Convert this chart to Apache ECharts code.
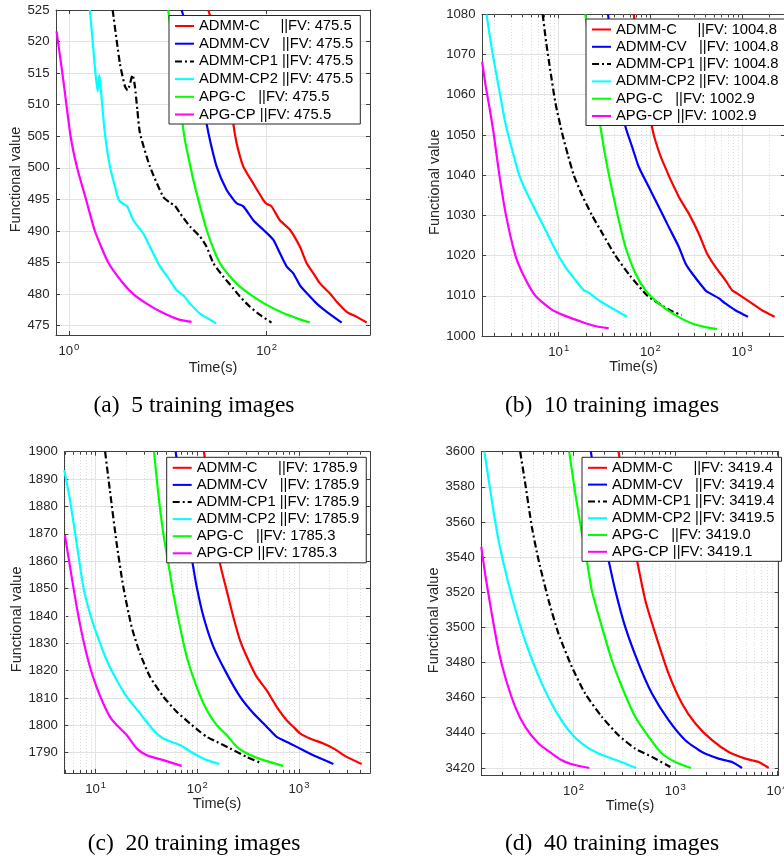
<!DOCTYPE html>
<html><head><meta charset="utf-8">
<script src="https://cdn.jsdelivr.net/npm/echarts@6/dist/echarts.min.js"></script>
<style>html,body{margin:0;padding:0;background:#fff}#c{width:784px;height:859px}</style>
</head><body><div id="c"></div>
<script>
// ---------- names ----------
const methods = ['ADMM-C', 'ADMM-CV', 'ADMM-CP1', 'ADMM-CP2', 'APG-C', 'APG-CP'];
const methodPad = ['     ', '   ', ' ', ' ', '   ', ' '];
const fvA = ['475.5', '475.5', '475.5', '475.5', '475.5', '475.5'];
const fvB = ['1004.8', '1004.8', '1004.8', '1004.8', '1002.9', '1002.9'];
const fvC = ['1785.9', '1785.9', '1785.9', '1785.9', '1785.3', '1785.3'];
const fvD = ['3419.4', '3419.4', '3419.4', '3419.5', '3419.0', '3419.1'];
const captions = ['(a)  5 training images', '(b)  10 training images', '(c)  20 training images', '(d)  40 training images'];

// ---------- (a) 5 training images: [time(s), functional value] ----------
const aAdmmC = [[25.7,525],[33.7,518.7],[42.6,511.3],[46,507],[49.7,503.9],[58.1,500.2],[73.3,497.5],[92.5,494.9],[100,494.3],[112,493.9],[136,491.7],[172,490.2],[217,487.5],[254,484.9],[297,483.3],[346,481.7],[437,480.1],[511,478.8],[645,477.2],[814,476.4],[1028,475.5]];
const aAdmmCV = [[13.8,525],[18.1,518.7],[22,511.8],[24.7,507],[26.7,504.4],[31.2,500.2],[39.4,496.5],[49.7,494.4],[58.1,493.9],[73.3,491.7],[92.5,490.2],[117,488.6],[136,486.5],[159,484.4],[186,483.3],[217,481.4],[264,479.9],[321,478.5],[405,477.2],[574,475.5]];
const aAdmmCP1 = [[2.77,525],[3.28,516.5],[3.69,512.9],[3.92,512.3],[4.41,514.7],[4.65,512.9],[4.92,509.2],[5.23,505.5],[6.6,500.2],[9.0,495.4],[10.5,494.5],[11.8,494.0],[13.3,492.8],[16.8,490.7],[21.2,489.1],[24.7,487.5],[28.9,484.9],[36.4,482.8],[46,480.9],[53.7,479.6],[67.8,478],[85.6,476.7],[112,475.5]];
const aAdmmCP2 = [[1.63,525],[1.83,516],[1.95,512.1],[2.03,514.7],[2.09,512.9],[2.31,505.5],[2.6,500.2],[3.04,496],[3.2,494.9],[3.55,494.3],[3.89,493.9],[4.48,491.7],[5.65,489.6],[6.6,487.5],[8.33,484.4],[10.5,482.2],[12.3,480.6],[14.4,479.8],[16.8,478.5],[21.2,476.9],[30.7,475.4]];
const aApgC = [[10.1,525],[11.4,518.7],[12.8,512.3],[14.1,507],[14.9,504.4],[16.1,501.8],[18.1,498.1],[21.2,493.9],[24.7,490.2],[28.9,487.2],[33.7,484.9],[42.6,482.8],[53.7,481.2],[73.3,479.6],[100,478.3],[147,477],[217,476],[274,475.5]];
const aApgCP = [[0.75,521.6],[0.877,513.9],[1.04,505],[1.21,500],[1.49,495],[1.83,490],[2.5,485],[3.41,482],[4.48,480],[6.1,478.5],[9,477],[12.8,476],[17.4,475.6]];

// ---------- (b) 10 training images ----------
const bAdmmC = [[65.8,1080],[77.8,1069.5],[92,1058.7],[104,1052.1],[112,1049],[134,1043.8],[204,1034.6],[262,1030.5],[337,1025.5],[415,1020.5],[512,1017.2],[658,1013.9],[778,1011.4],[881,1010.6],[1285,1008.1],[1652,1006.4],[2270,1004.8]];
const bAdmmCV = [[34.5,1080],[39.8,1069.5],[47.1,1058.7],[53.4,1052.1],[63.1,1047.1],[74.6,1042.1],[95.9,1037.1],[123,1032.2],[158,1027.2],[204,1022.2],[241,1018.1],[285,1015.6],[398,1011.4],[433,1010.8],[556,1009.4],[658,1008.1],[845,1006.4],[1161,1004.8]];
const bAdmmCP1 = [[6.68,1080],[7.3,1073],[8.1,1066],[9.2,1058],[10.9,1050.4],[12.6,1045],[14.6,1040],[18,1035],[23.1,1030],[30,1025.5],[41.5,1020],[60,1015],[93,1010],[130,1007.8],[170,1006.2],[220,1005.2]];
const bAdmmCP2 = [[1.63,1080],[1.87,1071.1],[2.21,1062],[2.62,1052.9],[3.1,1046.3],[3.66,1040.4],[4.33,1036.3],[5.56,1031.3],[7.16,1026.4],[9.2,1021.4],[11.8,1017.2],[15.2,1013.9],[18.7,1011.4],[21.2,1010.8],[27.3,1008.9],[38.2,1006.9],[55.6,1004.8]];
const bApgC = [[19.5,1080],[22.1,1071.1],[25.1,1061.2],[28.5,1052.1],[32.3,1044.6],[38.2,1036.3],[45.2,1028.8],[53.4,1022.2],[68.6,1015.6],[88.2,1011.4],[123,1008.1],[187,1005.2],[285,1003.1],[400,1002.2],[533,1001.7]];
const bApgCP = [[1.46,1068.2],[1.6,1062],[1.75,1057],[1.95,1050.4],[2.25,1040],[2.66,1030],[3.37,1020],[4.15,1015],[5.56,1010],[8.46,1006.5],[11.8,1005],[18,1003.5],[25,1002.5],[35.1,1001.9]];

// ---------- (c) 20 training images ----------
const cAdmmC = [[116,1900],[133,1884.8],[149,1871.4],[167,1859.2],[194,1849.4],[226,1839.6],[263,1831.1],[318,1823.8],[384,1817.7],[481,1812.8],[603,1806.8],[756,1801.9],[879,1799.5],[1023,1797.1],[1282,1795.2],[1734,1793.4],[2178,1791.6],[2944,1788.5],[4130,1785.9]];
const cAdmmCV = [[61.2,1900],[70.1,1884.8],[78.6,1871.4],[89.9,1859.2],[98.5,1850.7],[115,1839.7],[144,1828.7],[194,1819],[263,1810.5],[356,1804.4],[481,1799.5],[603,1795.8],[815,1793.4],[1104,1790.9],[1493,1788.5],[2178,1785.9]];
const cAdmmCP1 = [[12.4,1900],[13.8,1886],[16.1,1866.5],[18.7,1850.7],[22.6,1836],[27.3,1826.3],[34.2,1817.8],[46.3,1810.5],[62.7,1805],[84.7,1800.7],[106,1797.7],[124,1795.8],[155,1794],[209,1791.6],[305,1788.5],[429,1786.1]];
const cAdmmCP2 = [[4.92,1893.3],[5.6,1882.3],[6.51,1866.5],[7.56,1850.7],[8.79,1840.9],[10.2,1833.6],[12.8,1823.9],[16.1,1816.6],[20.2,1810.5],[27.3,1804.4],[36.9,1798.3],[46.3,1795.2],[67.6,1792.8],[91.4,1789.8],[124,1787.3],[165,1785.9]];
const cApgC = [[37.5,1900],[41.3,1884.8],[46.3,1870.2],[51.9,1859.2],[58.1,1848.2],[67.6,1836],[78.6,1825.1],[98.5,1814.1],[124,1805.6],[155,1800.1],[194,1796.5],[244,1792.2],[305,1789.8],[446,1787.3],[701,1785.2]];
const cApgCP = [[4.99,1869.5],[5.6,1858],[6.51,1843.4],[7.56,1831.2],[8.79,1821.4],[10.2,1814.1],[11.9,1808],[13.8,1803.2],[16.1,1800.1],[20.2,1796.5],[25.3,1791.6],[31.8,1789.1],[46.3,1787.3],[70.1,1785.2]];

// ---------- (d) 40 training images ----------
const dAdmmC = [[277,3600],[322,3576.3],[369,3555.4],[420,3538.3],[507,3515.5],[636,3496.5],[859,3473.7],[1163,3456.7],[1574,3445.3],[2296,3435.8],[3350,3429.1],[4884,3425.3],[6603,3423.4],[8283,3420]];
const dAdmmCV = [[148,3600],[170,3576.3],[193,3555.4],[221,3538.3],[257,3521.2],[322,3500.3],[436,3479.4],[589,3462.4],[859,3447.2],[1253,3435.8],[1828,3429.1],[2667,3425.3],[3606,3423.4],[4525,3420]];
const dAdmmCP1 = [[29.9,3600],[33.5,3582],[38.9,3557.3],[45.3,3538.3],[56.8,3515.5],[71.1,3496.5],[96.3,3477.5],[130,3462.4],[190,3449.1],[277,3438.6],[404,3431],[589,3426.3],[893,3420.6]];
const dAdmmCP2 = [[13.3,3600],[15.7,3572.5],[18.3,3549.7],[22.9,3525],[28.8,3504.1],[36.1,3487],[48.8,3468],[66.1,3452.9],[89.3,3441.5],[121,3433.9],[176,3428.2],[277,3424],[322,3422.5],[413,3420]];
const dApgC = [[90.6,3600],[104,3576.3],[121,3553.5],[135,3538.3],[151,3521.2],[190,3500.3],[238,3481.3],[299,3466.1],[404,3449.1],[547,3437.7],[740,3428.2],[1000,3423.4],[1426,3420]];
const dApgCP = [[12.4,3545.9],[13.5,3530.7],[15.7,3507.9],[18.3,3487],[21.3,3471.8],[26.7,3454.8],[33.5,3443.4],[45.3,3433.9],[61.2,3428.2],[76.7,3424.4],[96.3,3422.1],[143,3420]];

// ---------- styles & layout ----------
const colors = ['#ff0000', '#0000ff', '#000000', '#00ffff', '#00ff00', '#ff00ff'];
const dashCP1 = [7, 3, 2, 3];
const axisColor = '#404040';
const textColor = '#262626';
const gridColor = '#e2e2e2';
const FONT = 'Liberation Sans';

const panels = [
  { series: [aAdmmC, aAdmmCV, aAdmmCP1, aAdmmCP2, aApgC, aApgCP], fv: fvA,
    box: { left: 56, top: 10, width: 314, height: 325 }, xMin: 0.74, xMax: 1110, logBase: 100,
    yMin: 473.53, yMax: 525, split: 10, yStep: 5, minor: false,
    lg: { left: 169, top: 15.5, gap: 2.7 }, yNameGap: 30, xNameGap: 25.5, cap: { x: 194, y: 406 } },
  { series: [bAdmmC, bAdmmCV, bAdmmCP1, bAdmmCP2, bApgC, bApgCP], fv: fvB,
    box: { left: 482, top: 14.3, width: 303, height: 321.7 }, xMin: 1.455, xMax: 2945, logBase: 10,
    yMin: 1000, yMax: 1080, split: 8, yStep: 10, minor: true,
    lg: { left: 586, top: 19, gap: 2.3 }, yNameGap: 38, xNameGap: 23.2, cap: { x: 612, y: 406 } },
  { series: [cAdmmC, cAdmmCV, cAdmmCP1, cAdmmCP2, cApgC, cApgCP], fv: fvC,
    box: { left: 64.3, top: 451.7, width: 305.7, height: 321.3 }, xMin: 4.92, xMax: 4990, logBase: 10,
    yMin: 1782.6, yMax: 1900, split: 12, yStep: 10, minor: true,
    lg: { left: 166.7, top: 457.3, gap: 2.1 }, yNameGap: 38, xNameGap: 23.8, cap: { x: 194, y: 844 } },
  { series: [dAdmmC, dAdmmCV, dAdmmCP1, dAdmmCP2, dApgC, dApgCP], fv: fvD,
    box: { left: 481.3, top: 451.7, width: 297.4, height: 323.3 }, xMin: 12.4, xMax: 10380, logBase: 10,
    yMin: 3416, yMax: 3600, split: 9, yStep: 20, minor: true,
    lg: { left: 582, top: 457.3, gap: 1.8 }, yNameGap: 37, xNameGap: 21.8, cap: { x: 612, y: 844 } }
];

function logFmt(v) {
  const e = Math.log10(v), r = Math.round(e);
  if (Math.abs(e - r) > 1e-6) return '';
  return '{b|10}{s|' + r + '}';
}
function makeYFmt(step) {
  return function (v) {
    const q = v / step;
    return Math.abs(q - Math.round(q)) < 1e-6 ? String(Math.round(v)) : '';
  };
}
const supRich = {
  b: { fontSize: 13.2, color: textColor, fontFamily: FONT },
  s: { fontSize: 9.5, color: textColor, fontFamily: FONT, padding: [0, 0, 9, 1] }
};

const grid = [], xAxis = [], yAxis = [], series = [], legend = [], graphic = [];
panels.forEach((p, i) => {
  grid.push(Object.assign({ containLabel: false, outerBoundsMode: 'none' }, p.box));
  const common = {
    gridIndex: i, type: 'log', logBase: p.logBase, min: p.xMin, max: p.xMax,
    axisLine: { show: true, lineStyle: { color: axisColor, width: 1 } },
    axisTick: { show: true, inside: true, length: 4, lineStyle: { color: axisColor } }
  };
  xAxis.push(Object.assign({}, common, {
    position: 'bottom',
    axisLabel: { margin: 7, formatter: logFmt, rich: supRich, showMinLabel: true, showMaxLabel: true },
    splitLine: { show: true, lineStyle: { color: gridColor, width: 1 } },
    name: 'Time(s)', nameLocation: 'middle', nameGap: p.xNameGap,
    nameTextStyle: { fontSize: 14.5, color: textColor, fontFamily: FONT }
  }));
  xAxis.push(Object.assign({}, common, {
    position: 'top', axisLabel: { show: false }, splitLine: { show: false }
  }));
  const ycommon = {
    gridIndex: i, type: 'value', min: p.yMin, max: p.yMax, splitNumber: p.split,
    axisLine: { show: true, lineStyle: { color: axisColor, width: 1 } },
    axisTick: { show: true, inside: true, length: 4, lineStyle: { color: axisColor } }
  };
  yAxis.push(Object.assign({}, ycommon, {
    position: 'left',
    axisLabel: { margin: 6.5, formatter: makeYFmt(p.yStep), showMinLabel: true, showMaxLabel: true,
      fontSize: 13.2, color: textColor, fontFamily: FONT },
    splitLine: { show: true, lineStyle: { color: gridColor, width: 1 } },
    name: 'Functional value', nameLocation: 'middle', nameGap: p.yNameGap,
    nameTextStyle: { fontSize: 14.5, color: textColor, fontFamily: FONT, padding: [0, 14, 0, 0] }
  }));
  yAxis.push(Object.assign({}, ycommon, {
    position: 'right', axisLabel: { show: false }, splitLine: { show: false }
  }));

  const names = methods.map((m, j) => m + methodPad[j] + '||FV: ' + p.fv[j]);
  p.series.forEach((d, j) => {
    series.push({
      type: 'line', name: names[j], xAxisIndex: 2 * i, yAxisIndex: 2 * i, data: d,
      symbol: 'none', showSymbol: false, smooth: 0.2, clip: true, z: 3,
      lineStyle: { color: colors[j], width: 2.2, type: j === 2 ? dashCP1 : 'solid' },
      itemStyle: { color: colors[j] }, emphasis: { disabled: true }
    });
  });

  if (p.minor) {
    const mk = [];
    const d = (p.yMax - p.yMin) * 3 / p.box.height;
    const k0 = Math.floor(Math.log10(p.xMin)), k1 = Math.ceil(Math.log10(p.xMax));
    for (let k = k0; k <= k1; k++) {
      for (let m = 2; m <= 9; m++) {
        const x = m * Math.pow(10, k);
        if (x <= p.xMin || x >= p.xMax) continue;
        mk.push({ xAxis: x });
        mk.push([{ coord: [x, p.yMin], lineStyle: { color: axisColor, type: 'solid', width: 1 } }, { coord: [x, p.yMin + d] }]);
        mk.push([{ coord: [x, p.yMax - d], lineStyle: { color: axisColor, type: 'solid', width: 1 } }, { coord: [x, p.yMax] }]);
      }
    }
    series.push({
      type: 'line', xAxisIndex: 2 * i, yAxisIndex: 2 * i, data: [], silent: true, z: 1,
      markLine: { silent: true, symbol: ['none', 'none'], label: { show: false }, z: 1, animation: false,
        lineStyle: { color: '#dcdcdc', type: [1, 2], width: 1 }, emphasis: { disabled: true }, data: mk }
    });
  }

  legend.push({
    orient: 'vertical', left: p.lg.left, top: p.lg.top, data: names,
    itemWidth: 19, itemHeight: 10, itemGap: p.lg.gap, padding: [3, 7, 2, 5],
    backgroundColor: '#ffffff', borderColor: '#262626', borderWidth: 1, borderRadius: 0,
    textStyle: { fontSize: 14.8, lineHeight: 15, color: '#000', fontFamily: FONT },
    itemStyle: { opacity: 0 }, selectedMode: false, z: 10
  });

  graphic.push({
    type: 'text', x: p.cap.x, y: p.cap.y, silent: true,
    style: { text: captions[i], fontSize: 23.5, fontFamily: 'Liberation Serif', fill: '#000',
      align: 'center', verticalAlign: 'middle', textAlign: 'center', textVerticalAlign: 'middle' }
  });
});

const chart = echarts.init(document.getElementById('c'), null, { renderer: 'canvas' });
chart.setOption({
  animation: false,
  backgroundColor: '#ffffff',
  textStyle: { fontFamily: FONT, color: textColor },
  grid, xAxis, yAxis, series, legend, graphic
});
</script></body></html>
